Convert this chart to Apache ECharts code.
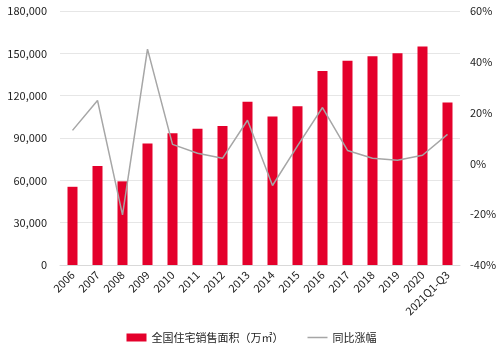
<!DOCTYPE html>
<html>
<head>
<meta charset="utf-8">
<script src="https://cdn.jsdelivr.net/npm/echarts@6/dist/echarts.min.js"></script>
<style>
	html, body { margin: 0; padding: 0; background: #fff; }
	#main { width: 503px; height: 354px; }
</style>
</head>
<body>
<div id="main"></div>
<script>
// 카테고리 / 데이터
var years = ['2006', '2007', '2008', '2009', '2010', '2011', '2012', '2013',
	'2014', '2015', '2016', '2017', '2018', '2019', '2020', '2021Q1-Q3'];
// 全国住宅销售面积 (万㎡)
var salesArea = [55423, 70136, 59280, 86185, 93377, 96528, 98468, 115723,
	105188, 112412, 137540, 144789, 147929, 150144, 154878, 115180];
// 同比涨幅 (%)
var yoyGrowth = [13.0, 24.8, -20.3, 45.0, 7.5, 4.0, 2.0, 17.0,
	-8.7, 6.9, 22.0, 5.1, 2.0, 1.2, 3.2, 11.4];

function numberWithCommas(x) {
	return x.toString().replace(/\B(?=(\d{3})+(?!\d))/g, ",");
}

var chart = echarts.init(document.getElementById('main'));
var option = {
	animation: false,
	textStyle: { fontFamily: 'Noto Sans CJK SC, sans-serif' },
	grid: { left: 60, right: 43, top: 11, bottom: 89 },
	legend: {
		bottom: 6,
		left: 'center',
		itemGap: 24,
		itemWidth: 20,
		itemHeight: 8,
		textStyle: { fontSize: 11, color: '#222' },
		data: [
			{ name: '全国住宅销售面积（万㎡）', icon: 'rect' },
			{ name: '同比涨幅', icon: 'path://M0,0h40v3h-40z' }
		]
	},
	xAxis: {
		type: 'category',
		data: years,
		axisLine: { lineStyle: { color: '#d9d9d9' } },
		axisTick: { show: false },
		axisLabel: { rotate: 45, fontSize: 11, color: '#222', interval: 0, margin: 8 }
	},
	yAxis: [
		{
			type: 'value',
			min: 0,
			max: 180000,
			interval: 30000,
			axisLine: { show: false },
			axisTick: { show: false },
			axisLabel: {
				fontSize: 11, color: '#222', margin: 13,
				formatter: function(v) { return numberWithCommas(v); }
			},
			splitLine: { lineStyle: { color: '#e6e6e6' } }
		},
		{
			type: 'value',
			min: -40,
			max: 60,
			interval: 20,
			axisLine: { show: false },
			axisTick: { show: false },
			axisLabel: { fontSize: 11, color: '#222', margin: 10, formatter: '{value}%' },
			splitLine: { show: false }
		}
	],
	series: [
		{
			name: '全国住宅销售面积（万㎡）',
			type: 'bar',
			barWidth: 10,
			itemStyle: { color: '#e4002b' },
			data: salesArea
		},
		{
			name: '同比涨幅',
			type: 'line',
			yAxisIndex: 1,
			symbol: 'none',
			lineStyle: { color: '#a6a6a6', width: 1.5 },
			itemStyle: { color: '#a6a6a6' },
			data: yoyGrowth
		}
	]
};
chart.setOption(option);
</script>
</body>
</html>
